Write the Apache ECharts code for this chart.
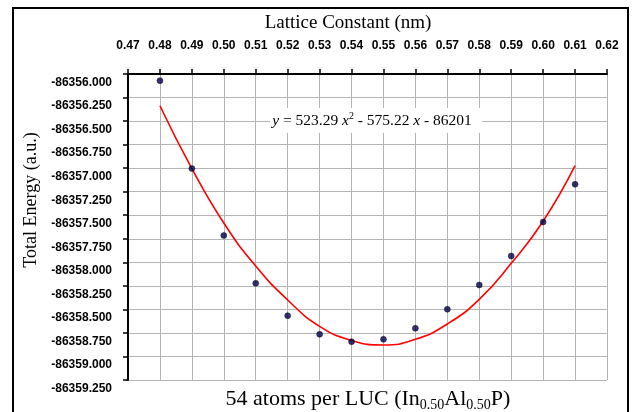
<!DOCTYPE html>
<html>
<head>
<meta charset="utf-8">
<script src="https://cdn.jsdelivr.net/npm/echarts@6/dist/echarts.min.js"></script>
<style>
  html, body { margin: 0; padding: 0; background: #fff; }
  #chart { width: 632px; height: 412px; }
</style>
</head>
<body>
<div id="chart"></div>
<script>
// lattice constant (nm)
const latticeNm = [0.48, 0.49, 0.50, 0.51, 0.52, 0.53, 0.54, 0.55, 0.56, 0.57, 0.58, 0.59, 0.60, 0.61]
// computed total energies (a.u.)
const totalEnergy = [
  -86356.071, -86357.005, -86357.715, -86358.223, -86358.567, -86358.765, -86358.843,
  -86358.818, -86358.701, -86358.499, -86358.241, -86357.933, -86357.572, -86357.171
]
// red trend line at the same x positions
const fitEnergy = [
  -86356.337, -86357.004, -86357.583, -86358.040, -86358.400, -86358.680, -86358.830,
  -86358.878, -86358.818, -86358.655, -86358.393, -86358.011, -86357.564, -86356.974
]

const SERIF = '"Liberation Serif", "DejaVu Serif", serif'
const SANS = '"Liberation Sans", Arial, sans-serif'

const chart = echarts.init(document.getElementById('chart'), null, { renderer: 'canvas' })

chart.setOption({
  animation: false,
  backgroundColor: '#fff',
  grid: { left: 128, right: 25, top: 74, bottom: 32 },
  xAxis: {
    type: 'value',
    position: 'top',
    min: 0.47,
    max: 0.62,
    interval: 0.01,
    axisLine: { show: true, lineStyle: { color: '#000', width: 2 } },
    axisTick: { show: true, inside: false, length: 5, lineStyle: { color: '#000', width: 1.5 } },
    axisLabel: {
      margin: 22,
      color: '#000',
      fontFamily: SANS,
      fontWeight: 'bold',
      fontSize: 12,
      formatter: (v) => v.toFixed(2)
    },
    splitLine: { show: true, lineStyle: { color: '#b4b4b4', width: 1 } }
  },
  yAxis: {
    type: 'value',
    min: -86359.25,
    max: -86356.0,
    interval: 0.25,
    axisLine: { show: true, lineStyle: { color: '#000', width: 2 } },
    axisTick: { show: true, inside: false, length: 5, lineStyle: { color: '#000', width: 1.5 } },
    axisLabel: {
      margin: 16,
      color: '#000',
      fontFamily: SANS,
      fontWeight: 'bold',
      fontSize: 12,
      verticalAlign: 'top',
      lineHeight: 17,
      formatter: (v) => v.toFixed(3)
    },
    splitLine: { show: true, lineStyle: { color: '#b4b4b4', width: 1 } }
  },
  series: [
    {
      name: 'fit',
      type: 'line',
      data: latticeNm.map((x, i) => [x, fitEnergy[i]]),
      smooth: true,
      showSymbol: false,
      symbol: 'none',
      lineStyle: { color: '#ff0000', width: 1.6 },
      z: 2
    },
    {
      name: 'energy',
      type: 'scatter',
      data: latticeNm.map((x, i) => [x, totalEnergy[i]]),
      symbol: 'circle',
      symbolSize: 6,
      itemStyle: { color: '#000050', borderColor: '#000', borderWidth: 0.5 },
      z: 3
    }
  ],
  graphic: [
    {
      type: 'rect',
      shape: { x: 13, y: 8, width: 615, height: 420 },
      style: { fill: 'none', stroke: '#000', lineWidth: 2 },
      silent: true
    },
    {
      type: 'text',
      x: 348,
      y: 23,
      style: {
        text: 'Lattice Constant (nm)',
        font: '19px ' + SERIF,
        fill: '#000',
        align: 'center',
        verticalAlign: 'middle'
      }
    },
    {
      type: 'text',
      x: 31,
      y: 200,
      rotation: Math.PI / 2,
      style: {
        text: 'Total Energy (a.u.)',
        font: '18px ' + SERIF,
        fill: '#000',
        align: 'center',
        verticalAlign: 'middle'
      }
    },
    {
      type: 'rect',
      shape: { x: 270, y: 108, width: 212, height: 25 },
      style: { fill: '#fff', stroke: 'none' },
      z: 10
    },
    {
      type: 'text',
      x: 372,
      y: 121,
      z: 11,
      style: {
        text: '{i|y} = 523.29 {i|x}{sup|2} - 575.22 {i|x} - 86201',
        font: '15.5px ' + SERIF,
        fill: '#000',
        align: 'center',
        verticalAlign: 'middle',
        lineHeight: 20,
        rich: {
          i: { fontFamily: SERIF, fontSize: 15.5, fontStyle: 'italic', lineHeight: 20, fill: '#000' },
          sup: { fontFamily: SERIF, fontSize: 10, verticalAlign: 'top', lineHeight: 12, fill: '#000' }
        }
      }
    },
    {
      type: 'text',
      x: 368,
      y: 399,
      style: {
        text: '54 atoms per LUC (In{sub|0.50}Al{sub|0.50}P)',
        font: '22px ' + SERIF,
        fill: '#000',
        align: 'center',
        verticalAlign: 'middle',
        lineHeight: 26,
        rich: {
          sub: { fontFamily: SERIF, fontSize: 14, verticalAlign: 'bottom', lineHeight: 15, fill: '#000' }
        }
      }
    }
  ]
})
</script>
</body>
</html>
